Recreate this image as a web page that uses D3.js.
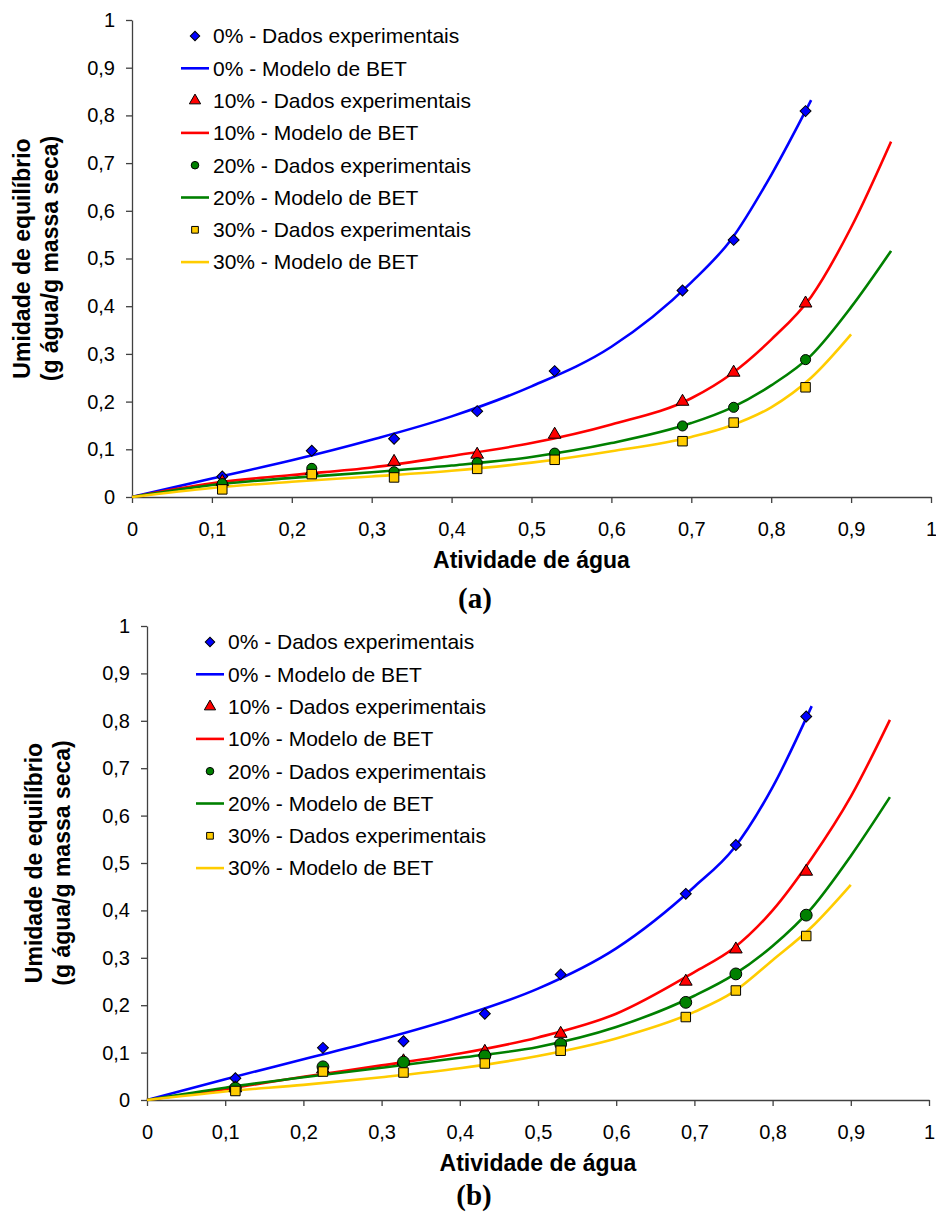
<!DOCTYPE html>
<head><style>
body { margin: 0; background: #fff; }
svg { display: block; }
text { font-family: "Liberation Sans", Arial, sans-serif; }
</style></head>
<body>
<div class="container"></div>
<script src="https://d3js.org/d3.v7.min.js"></script>
<script>
// atividade de agua dos sais
var aw = [0.113, 0.225, 0.328, 0.432, 0.529, 0.689, 0.753, 0.843];
var awModelo = [0, 0.1, 0.2, 0.3, 0.4, 0.5, 0.6, 0.7, 0.75, 0.8, 0.85, 0.9, 0.95];
var ticks = [0, 0.1, 0.2, 0.3, 0.4, 0.5, 0.6, 0.7, 0.8, 0.9, 1];
var series = ['0%', '10%', '20%', '30%'];
var colors = ['#0000ff', '#ff0000', '#008000', '#ffcc00'];
var symbols = ['diamond', 'triangle', 'circle', 'square'];

// (a)
var dadosA0  = [0.043, 0.097, 0.122, 0.180, 0.264, 0.433, 0.539, 0.809];
var dadosA10 = [0.032, 0.055, 0.074, 0.089, 0.131, 0.200, 0.261, 0.406];
var dadosA20 = [0.028, 0.060, 0.053, 0.072, 0.092, 0.149, 0.188, 0.288];
var dadosA30 = [0.016, 0.048, 0.041, 0.059, 0.078, 0.117, 0.156, 0.230];
var betA0  = [0, 0.039, 0.077, 0.120, 0.169, 0.232, 0.315, 0.450, 0.540, 0.675, 0.832];
var betA10 = [0, 0.029, 0.046, 0.062, 0.086, 0.113, 0.152, 0.207, 0.258, 0.330, 0.420, 0.565, 0.745];
var betA20 = [0, 0.025, 0.040, 0.052, 0.066, 0.084, 0.113, 0.155, 0.187, 0.234, 0.297, 0.398, 0.516];
var betA30 = [0, 0.019, 0.032, 0.043, 0.055, 0.072, 0.096, 0.126, 0.150, 0.188, 0.250, 0.341];

// (b)
var dadosB0  = [0.046, 0.110, 0.124, 0.182, 0.265, 0.435, 0.538, 0.809];
var dadosB10 = [0.025, 0.065, 0.082, 0.102, 0.140, 0.250, 0.318, 0.482];
var dadosB20 = [0.025, 0.070, 0.080, 0.093, 0.118, 0.206, 0.266, 0.390];
var dadosB30 = [0.019, 0.060, 0.058, 0.077, 0.104, 0.175, 0.231, 0.346];
var betB0  = [0, 0.044, 0.086, 0.128, 0.176, 0.235, 0.320, 0.450, 0.530, 0.660, 0.831];
var betB10 = [0, 0.023, 0.049, 0.073, 0.098, 0.132, 0.182, 0.270, 0.320, 0.400, 0.510, 0.640, 0.802];
var betB20 = [0, 0.026, 0.048, 0.068, 0.089, 0.112, 0.154, 0.220, 0.264, 0.325, 0.405, 0.515, 0.639];
var betB30 = [0, 0.018, 0.032, 0.048, 0.067, 0.093, 0.130, 0.186, 0.228, 0.295, 0.365, 0.454];

var svg = d3.select('.container').append('svg')
            .attr('width', 936)
            .attr('height', 1212);

var fmt = function(d) { return d3.format('~g')(d).replace('.', ','); };

function symbolPath(kind, size) {
    var t = {diamond: d3.symbolSquare, triangle: d3.symbolTriangle,
             circle: d3.symbolCircle, square: d3.symbolSquare}[kind];
    return d3.symbol().type(t).size(size)();
}

function drawPanel(p) {
    var x = d3.scaleLinear().domain([0, 1]).range([p.left, p.right]);
    var y = d3.scaleLinear().domain([0, 1]).range([p.bottom, p.top]);
    var g = svg.append('g');

    var xaxis = g.append('g')
                 .attr('transform', 'translate(0,' + p.bottom + ')')
                 .call(d3.axisBottom(x).tickValues(ticks).tickFormat(fmt)
                         .tickSize(6).tickSizeOuter(0).tickPadding(19));
    var yaxis = g.append('g')
                 .attr('transform', 'translate(' + p.left + ',0)')
                 .call(d3.axisLeft(y).tickValues(ticks).tickFormat(fmt)
                         .tickSize(6).tickSizeOuter(0).tickPadding(11));
    [xaxis, yaxis].forEach(function(a) {
        a.selectAll('path, line').attr('stroke', '#404040').attr('stroke-width', 1.3);
        a.selectAll('text').attr('font-size', 20).attr('fill', '#000')
         .style('font-family', '"Liberation Sans", Arial, sans-serif');
    });

    var line = d3.line()
                 .x(function(d) { return x(d[0]); })
                 .y(function(d) { return y(d[1]); })
                 .curve(d3.curveMonotoneX);

    p.modelos.forEach(function(vals, i) {
        g.append('path')
         .datum(vals.map(function(v, j) { return [awModelo[j], v]; }))
         .attr('d', line)
         .attr('fill', 'none')
         .attr('stroke', colors[i])
         .attr('stroke-width', 2.6);
    });

    p.dados.forEach(function(vals, i) {
        var size = symbols[i] === 'circle' ? p.circleSize : (symbols[i] === 'square' ? 90 : (symbols[i] === 'triangle' ? 70 : 60));
        g.selectAll(null)
         .data(vals.map(function(v, j) { return [aw[j], v]; }))
         .enter().append('path')
         .attr('d', symbolPath(symbols[i], size))
         .attr('transform', function(d) {
             return 'translate(' + x(d[0]) + ',' + y(d[1]) + ')' + (symbols[i] === 'diamond' ? ' rotate(45)' : '');
         })
         .attr('fill', colors[i])
         .attr('stroke', '#000')
         .attr('stroke-width', 1);
    });

    // legenda
    var lx = p.left + 63;
    for (var i = 0; i < 4; i++) {
        var y1 = p.legendTop + i * 2 * 32.3;
        var y2 = y1 + 32.3;
        g.append('path')
         .attr('d', symbolPath(symbols[i], symbols[i] === 'triangle' ? 55 : 45))
         .attr('transform', 'translate(' + lx + ',' + y1 + ')' + (symbols[i] === 'diamond' ? ' rotate(45)' : ''))
         .attr('fill', colors[i]).attr('stroke', '#000').attr('stroke-width', 1);
        g.append('text').attr('x', lx + 18).attr('y', y1).attr('dy', '0.35em')
         .attr('font-size', 21).text(series[i] + ' - Dados experimentais');
        g.append('line')
         .attr('x1', lx - 14).attr('x2', lx + 14).attr('y1', y2).attr('y2', y2)
         .attr('stroke', colors[i]).attr('stroke-width', 2.6);
        g.append('text').attr('x', lx + 18).attr('y', y2).attr('dy', '0.35em')
         .attr('font-size', 21).text(series[i] + ' - Modelo de BET');
    }

    // titulos
    var cx = (p.left + p.right) / 2;
    g.append('text').attr('x', cx).attr('y', p.bottom + 71)
     .attr('text-anchor', 'middle').attr('font-size', 23).attr('font-weight', 'bold')
     .text('Atividade de água');
    var cy = (p.top + p.bottom) / 2;
    g.append('text').attr('transform', 'translate(' + p.titleX + ',' + cy + ') rotate(-90)')
     .attr('text-anchor', 'middle').attr('font-size', 23).attr('font-weight', 'bold')
     .text('Umidade de equilíbrio');
    g.append('text').attr('transform', 'translate(' + (p.titleX + 28) + ',' + cy + ') rotate(-90)')
     .attr('text-anchor', 'middle').attr('font-size', 23).attr('font-weight', 'bold')
     .text('(g água/g massa seca)');
    g.append('text').attr('x', p.captionX).attr('y', p.captionY)
     .attr('text-anchor', 'middle').attr('font-size', 29).attr('font-weight', 'bold')
     .style('font-family', '"Liberation Serif", "Times New Roman", serif')
     .text(p.caption);
}

drawPanel({
    left: 132, right: 931, top: 20, bottom: 497,
    legendTop: 36, titleX: 30, captionX: 475, captionY: 608, caption: '(a)',
    circleSize: 80,
    dados: [dadosA0, dadosA10, dadosA20, dadosA30],
    modelos: [betA0, betA10, betA20, betA30]
});

drawPanel({
    left: 147, right: 929, top: 626, bottom: 1100,
    legendTop: 642, titleX: 42, captionX: 474, captionY: 1205, caption: '(b)',
    circleSize: 110,
    dados: [dadosB0, dadosB10, dadosB20, dadosB30],
    modelos: [betB0, betB10, betB20, betB30]
});
</script>
</body>
